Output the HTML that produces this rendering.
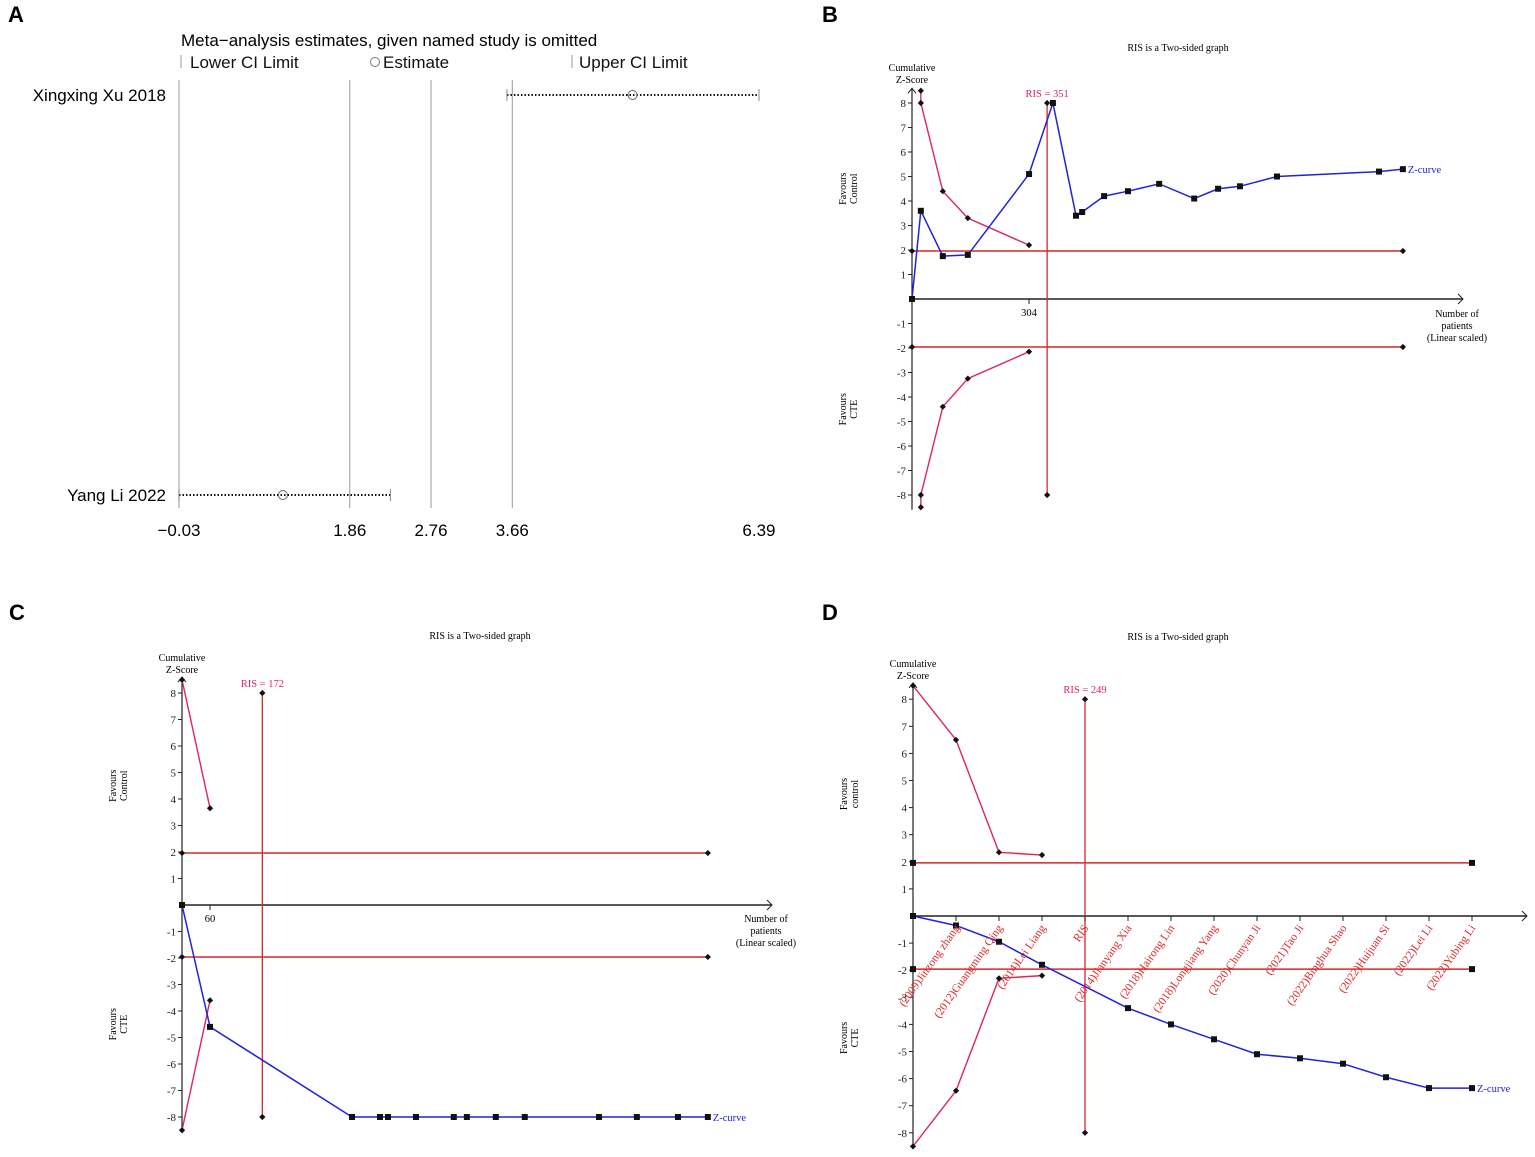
<!DOCTYPE html>
<html><head><meta charset="utf-8"><style>
body{margin:0;background:#fff;}
svg{display:block;}
.sans{font-family:"Liberation Sans",sans-serif;}
.serif{font-family:"Liberation Serif",serif;}
</style></head><body>
<svg id="fig" width="1535" height="1157" viewBox="0 0 1535 1157" xmlns="http://www.w3.org/2000/svg">
<rect width="1535" height="1157" fill="#fff"/>
<g class="sans" font-weight="bold" font-size="22">
<text x="8" y="22">A</text>
<text x="822" y="22">B</text>
<text x="9" y="620">C</text>
<text x="822" y="620">D</text>
</g>
<g id="pA" class="sans"></g>
<g id="pB" class="serif"></g>
<g id="pC" class="serif"></g>
<g id="pD" class="serif"></g>
</svg>
<script>
// ---------- Panel A data ----------
const aStudies = ["Xingxing Xu 2018", "Yang Li 2022"];
const aLower = [3.60, -0.03];
const aEst = [4.99, 1.12];
const aUpper = [6.39, 2.31];
const aTicks = [-0.03, 1.86, 2.76, 3.66, 6.39];
const aRefLines = [-0.03, 1.86, 2.76, 3.66];

// ---------- Panel B data ----------
const bZx = [0, 23, 80, 145, 304, 366, 426, 442, 499, 561, 642, 733, 795, 852, 948, 1213, 1275];
const bZy = [0, 3.6, 1.75, 1.8, 5.1, 8.0, 3.4, 3.55, 4.2, 4.4, 4.7, 4.1, 4.5, 4.6, 5.0, 5.2, 5.3];
const bBx = [23, 23, 80, 145, 304];
const bUpper = [8.5, 8.0, 4.4, 3.3, 2.2];
const bLower = [-8.5, -8.0, -4.4, -3.25, -2.15];
const bRIS = 351;
const bXTicks = [304];
const bMaxX = 1275;

// ---------- Panel C data ----------
const cZx = [0, 60, 364, 424, 441, 501, 582, 610, 672, 734, 893, 974, 1062, 1126];
const cZy = [0, -4.6, -8, -8, -8, -8, -8, -8, -8, -8, -8, -8, -8, -8];
const cBx = [0, 60];
const cUpper = [8.5, 3.65];
const cLower = [-8.5, -3.6];
const cRIS = 172;
const cXTicks = [60];
const cMaxX = 1126;

// ---------- Panel D data ----------
const dCats = ["", "(2009)Jinzong zhang", "(2012)Guangming Qing", "(2014)Lei Liang", "RIS", "(2014)Jianyang Xia", "(2018)Hairong Lin", "(2018)Longjiang Yang", "(2020)Chunyan Ji", "(2021)Tao Ji", "(2022)Binghua Shao", "(2022)Huijuan Si", "(2022)Lei Li", "(2022)Yubing Li"];
const dZidx = [0, 1, 2, 3, 5, 6, 7, 8, 9, 10, 11, 12, 13];
const dZy = [0, -0.35, -0.95, -1.8, -3.4, -4.0, -4.55, -5.1, -5.25, -5.45, -5.95, -6.35, -6.35];
const dBidx = [0, 1, 2, 3];
const dUpper = [8.5, 6.5, 2.35, 2.25];
const dLower = [-8.5, -6.45, -2.3, -2.2];
const dRISidx = 4;
const yTicks = [8, 7, 6, 5, 4, 3, 2, 1, -1, -2, -3, -4, -5, -6, -7, -8];

const NS = "http://www.w3.org/2000/svg";
function mk(parent, tag, attrs, text) {
  const e = document.createElementNS(NS, tag);
  for (const k in attrs) e.setAttribute(k, attrs[k]);
  if (text !== undefined) e.textContent = text;
  parent.appendChild(e);
  return e;
}
function pts(xs, ys, sx, sy) { return xs.map((x, i) => sx(x) + "," + sy(ys[i])).join(" "); }

// ---------- Panel A ----------
(function () {
  const g = document.getElementById("pA");
  const sx = v => 179 + (v + 0.03) * 90.34;
  const rowY = [95, 495];
  let t;
  t = mk(g, "text", { x: 181, y: 46, "font-size": 17 }, "Meta\u2212analysis estimates, given named study is omitted");
  
  
  const leg = [[190, "Lower CI Limit"], [383, "Estimate"], [579, "Upper CI Limit"]];
  leg.forEach(l => {
    const e = mk(g, "text", { x: l[0], y: 68, "font-size": 17, fill: "#111" }, l[1]);
    
    
  });
  [181, 572].forEach(x => {
    const e = mk(g, "line", { x1: x, x2: x, y1: 55, y2: 68, stroke: "#999", "stroke-width": 1 });
    
    
  });
  t = mk(g, "circle", { cx: 375, cy: 62, r: 4.5, fill: "none", stroke: "#777", "stroke-width": 1 });
  
  
  aRefLines.forEach(v => {
    const e = mk(g, "line", { x1: sx(v), x2: sx(v), y1: 80, y2: 508, stroke: "#aaa", "stroke-width": 1.2 });
    
    
  });
  aStudies.forEach((s, i) => {
    const y = rowY[i];
    const lab = mk(g, "text", { x: 166, y: y + 6, "font-size": 17, "text-anchor": "end" }, s);
    
    
    const ln = mk(g, "line", { x1: sx(aLower[i]), x2: sx(aUpper[i]), y1: y, y2: y, stroke: "#111", "stroke-width": 2, "stroke-dasharray": "1.5,2" });
    
    
    [aLower[i], aUpper[i]].forEach(v => {
      const tk = mk(g, "line", { x1: sx(v), x2: sx(v), y1: y - 6, y2: y + 6, stroke: "#888", "stroke-width": 1 });
      
      
    });
    const c = mk(g, "circle", { cx: sx(aEst[i]), cy: y, r: 4.5, fill: "none", stroke: "#666", "stroke-width": 1 });
    
    
  });
  aTicks.forEach(v => {
    const e = mk(g, "text", { x: sx(v), y: 536, "font-size": 17, "text-anchor": "middle" }, v.toFixed(2).replace("-", "\u2212"));
    
    
  });
})();

// ---------- Generic TSA panel ----------
function tsa(g, o) {
  const sx = o.sx, sy = o.sy, x0 = sx(0), y0 = sy(0);
  let e;
  e = mk(g, "text", { x: o.titleX, y: o.titleY, "font-size": 10, "text-anchor": "middle" }, "RIS is a Two-sided graph");
  
  
  e = mk(g, "text", { x: x0, y: sy(8) - 32, "font-size": 10, "text-anchor": "middle" }, "Cumulative");
  
  
  e = mk(g, "text", { x: x0, y: sy(8) - 20, "font-size": 10, "text-anchor": "middle" }, "Z-Score");
  
  
  e = mk(g, "line", { x1: x0, x2: x0, y1: sy(8.6), y2: sy(-8.6), stroke: "#222", "stroke-width": 1.2 });
  
  
  e = mk(g, "polyline", { points: `${x0 - 4},${sy(8.6) + 5} ${x0},${sy(8.6)} ${x0 + 4},${sy(8.6) + 5}`, fill: "none", stroke: "#222" });
  
  
  e = mk(g, "line", { x1: x0, x2: o.arrowX, y1: y0, y2: y0, stroke: "#222", "stroke-width": 1.4 });
  
  
  e = mk(g, "polyline", { points: `${o.arrowX - 5},${y0 - 5} ${o.arrowX},${y0} ${o.arrowX - 5},${y0 + 5}`, fill: "none", stroke: "#222" });
  
  
  yTicks.forEach(v => {
    const t = mk(g, "line", { x1: x0 - 4, x2: x0, y1: sy(v), y2: sy(v), stroke: "#222" });
    
    
    const l = mk(g, "text", { x: x0 - 6, y: sy(v) + 4, "font-size": 11, "text-anchor": "end", fill: "#222" }, v < 0 ? "-" + (-v) : String(v));
    
    
  });
  [["Favours", o.fav1, sy(4.5)], ["Favours", "CTE", sy(-4.5)]].forEach((f, i) => {
    const tg = mk(g, "text", { transform: `translate(${x0 - 64},${f[2]}) rotate(-90)`, "font-size": 10, "text-anchor": "middle" });
    
    
    mk(tg, "tspan", { x: 0, y: -2 }, f[0]);
    mk(tg, "tspan", { x: 0, y: 9 }, f[1]);
  });
  [1.96, -1.96].forEach(v => {
    const l = mk(g, "line", { x1: x0, x2: o.endX, y1: sy(v), y2: sy(v), stroke: "#d42a2a", "stroke-width": 1.5 });
    
    
  });
  e = mk(g, "line", { x1: o.risX, x2: o.risX, y1: sy(8), y2: sy(-8), stroke: "#d42a2a", "stroke-width": 1.3 });
  
  
  if (o.risLabel) {
    e = mk(g, "text", { x: o.risX, y: sy(8) - 6, "font-size": 10.5, fill: "#e0245e", "text-anchor": "middle" }, o.risLabel);
    
    
  }
  [o.up, o.lo].forEach((ys, k) => {
    const p = mk(g, "polyline", { points: o.bPts(ys), fill: "none", stroke: "#e0245e", "stroke-width": 1.4 });
    
    
  });
  e = mk(g, "polyline", { points: o.zPts, fill: "none", stroke: "#2222dd", "stroke-width": 1.5 });
  
  
  o.diamonds.forEach(d => {
    const m = mk(g, "rect", { x: d[0] - 2.2, y: d[1] - 2.2, width: 4.4, height: 4.4, fill: "#111", transform: `rotate(45 ${d[0]} ${d[1]})` });
    
    
  });
  o.squares.forEach(d => {
    const m = mk(g, "rect", { x: d[0] - 3, y: d[1] - 3, width: 6, height: 6, fill: "#111" });
    
    
  });
  e = mk(g, "text", { x: o.zEnd[0] + 5, y: o.zEnd[1] + 4, "font-size": 10.5, fill: "#2222dd" }, "Z-curve");
  
  
  if (o.xLabel) {
    ["Number of", "patients", "(Linear scaled)"].forEach((s, i) => {
      const t = mk(g, "text", { x: o.xLabel[0], y: o.xLabel[1] + i * 12, "font-size": 10, "text-anchor": "middle" }, s);
      
      
    });
  }
}

function linearPanel(id, cfg) {
  const sx = v => cfg.ox + v * cfg.kx;
  const sy = v => cfg.oy - v * cfg.ky;
  const g = document.getElementById(id);
  const diamonds = [];
  cfg.bx.forEach((x, i) => { diamonds.push([sx(x), sy(cfg.up[i])]); diamonds.push([sx(x), sy(cfg.lo[i])]); });
  [1.96, -1.96].forEach(v => { diamonds.push([sx(0), sy(v)]); diamonds.push([sx(cfg.maxX), sy(v)]); });
  diamonds.push([sx(cfg.ris), sy(8)], [sx(cfg.ris), sy(-8)]);
  const squares = cfg.zx.map((x, i) => [sx(x), sy(cfg.zy[i])]);
  tsa(g, {
    sx, sy, titleX: cfg.titleX, titleY: cfg.titleY, arrowX: cfg.arrowX, endX: sx(cfg.maxX),
    fav1: "Control", risX: sx(cfg.ris), risLabel: "RIS = " + cfg.ris,
    up: cfg.up, lo: cfg.lo, bPts: ys => pts(cfg.bx, ys, sx, sy),
    zPts: pts(cfg.zx, cfg.zy, sx, sy), diamonds, squares,
    zEnd: squares[squares.length - 1], xLabel: cfg.xLabel
  });
  cfg.xt.forEach(v => {
    const t = mk(g, "line", { x1: sx(v), x2: sx(v), y1: sy(0), y2: sy(0) + 5, stroke: "#222" });
    
    
    const l = mk(g, "text", { x: sx(v), y: sy(0) + 17, "font-size": 10.5, "text-anchor": "middle" }, String(v));
    
    
  });
}

linearPanel("pB", { ox: 912, oy: 299, kx: 0.385, ky: 24.5, zx: bZx, zy: bZy, bx: bBx, up: bUpper, lo: bLower, ris: bRIS, xt: bXTicks, maxX: bMaxX, titleX: 1178, titleY: 51, arrowX: 1463, xLabel: [1457, 317] });
linearPanel("pC", { ox: 182, oy: 905, kx: 0.467, ky: 26.5, zx: cZx, zy: cZy, bx: cBx, up: cUpper, lo: cLower, ris: cRIS, xt: cXTicks, maxX: cMaxX, titleX: 480, titleY: 639, arrowX: 772, xLabel: [766, 922] });

// ---------- Panel D ----------
(function () {
  const g = document.getElementById("pD");
  const sx = i => 913 + i * 43;
  const sy = v => 916 - v * 27.1;
  const diamonds = [];
  dBidx.forEach((x, i) => { diamonds.push([sx(x), sy(dUpper[i])]); diamonds.push([sx(x), sy(dLower[i])]); });
  diamonds.push([sx(dRISidx), sy(8)], [sx(dRISidx), sy(-8)]);
  const last = dCats.length - 1;
  const squares = dZidx.map((x, i) => [sx(x), sy(dZy[i])]);
  [1.96, -1.96].forEach(v => { squares.push([sx(0), sy(v)]); squares.push([sx(last), sy(v)]); });
  tsa(g, {
    sx, sy, titleX: 1178, titleY: 640, arrowX: 1527, endX: sx(last),
    fav1: "control", risX: sx(dRISidx), risLabel: "RIS = 249",
    up: dUpper, lo: dLower, bPts: ys => pts(dBidx, ys, sx, sy),
    zPts: pts(dZidx, dZy, sx, sy), diamonds, squares,
    zEnd: [sx(last), sy(dZy[dZy.length - 1])], xLabel: null
  });
  dCats.forEach((c, i) => {
    if (!c) return;
    const t = mk(g, "line", { x1: sx(i), x2: sx(i), y1: sy(0), y2: sy(0) + 5, stroke: "#222" });
    
    
    const l = mk(g, "text", { x: sx(i) + 4, y: sy(0) + 12, "font-size": 11.5, fill: "#e02a2a", "text-anchor": "end", transform: `rotate(-55 ${sx(i) + 4} ${sy(0) + 12})` }, c);
    
    
  });
})();
</script>
</body></html>
